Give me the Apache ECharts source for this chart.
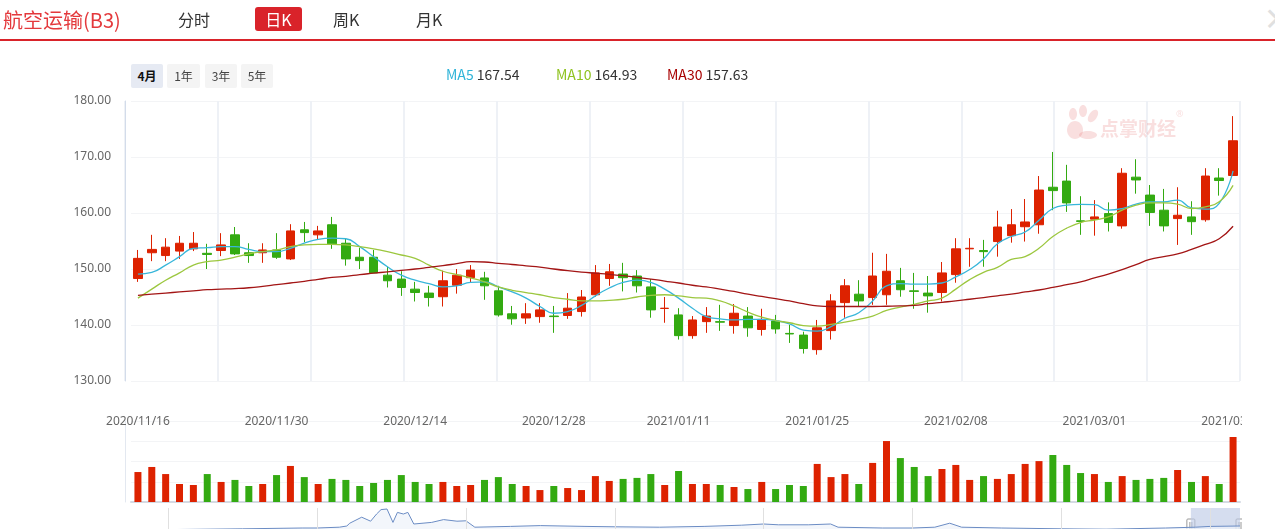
<!DOCTYPE html>
<html><head><meta charset="utf-8">
<script src="https://cdn.jsdelivr.net/npm/echarts@6/dist/echarts.min.js"></script>
<style>
html,body{margin:0;padding:0;width:1275px;height:529px;overflow:hidden;background:#fff;font-family:"Noto Sans CJK SC","Noto Sans",sans-serif;}
#chart{position:absolute;left:0;top:0;width:1242px;height:529px;}
.abs{position:absolute;white-space:nowrap;}
#title{left:3px;top:5px;font-size:20px;color:#e4393c;}
.tab{top:7px;font-size:16px;color:#333;}
#tabOn{left:255px;top:7px;width:47px;height:24px;line-height:24px;text-align:center;background:#d9232a;color:#fff;border-radius:3px;font-size:16px;}
#redline{left:0;top:39px;width:1275px;height:2px;background:#d9232a;}
#close{left:1263px;top:-2px;font-size:28px;font-weight:bold;color:#e0e0e0;}
.btn{top:64px;height:24px;line-height:24px;text-align:center;font-size:12px;color:#444;background:#f4f4f4;border-radius:2px;}
#b4m{background:#e6eaf3;color:#111;font-weight:bold;}
.leg{top:64px;font-size:14px;color:#333;line-height:20px;}
</style></head>
<body>
<div id="chart"></div>
<div class="abs" id="title">航空运输(B3)</div>
<div class="abs tab" style="left:178px">分时</div>
<div class="abs" id="tabOn">日K</div>
<div class="abs tab" style="left:333px">周K</div>
<div class="abs tab" style="left:416px">月K</div>
<div class="abs" id="redline"></div>
<div class="abs" id="close">×</div>
<div class="abs btn" id="b4m" style="left:131px;width:32px">4月</div>
<div class="abs btn" style="left:167px;width:33px">1年</div>
<div class="abs btn" style="left:205px;width:32px">3年</div>
<div class="abs btn" style="left:241px;width:32px">5年</div>
<div class="abs leg" style="left:446px"><span style="color:#2fb4d8">MA5</span> <span id="v5"></span></div>
<div class="abs leg" style="left:556px"><span style="color:#8fc31f">MA10</span> <span id="v10"></span></div>
<div class="abs leg" style="left:667px"><span style="color:#a80000">MA30</span> <span id="v30"></span></div>
<script>
const dates = ['2020/11/16','2020/11/17','2020/11/18','2020/11/19','2020/11/20','2020/11/23','2020/11/24','2020/11/25','2020/11/26','2020/11/27','2020/11/30','2020/12/01','2020/12/02','2020/12/03','2020/12/04','2020/12/07','2020/12/08','2020/12/09','2020/12/10','2020/12/11','2020/12/14','2020/12/15','2020/12/16','2020/12/17','2020/12/18','2020/12/21','2020/12/22','2020/12/23','2020/12/24','2020/12/25','2020/12/28','2020/12/29','2020/12/30','2020/12/31','2021/01/04','2021/01/05','2021/01/06','2021/01/07','2021/01/08','2021/01/11','2021/01/12','2021/01/13','2021/01/14','2021/01/15','2021/01/18','2021/01/19','2021/01/20','2021/01/21','2021/01/22','2021/01/25','2021/01/26','2021/01/27','2021/01/28','2021/01/29','2021/02/01','2021/02/02','2021/02/03','2021/02/04','2021/02/05','2021/02/08','2021/02/09','2021/02/10','2021/02/18','2021/02/19','2021/02/22','2021/02/23','2021/02/24','2021/02/25','2021/02/26','2021/03/01','2021/03/02','2021/03/03','2021/03/04','2021/03/05','2021/03/08','2021/03/09','2021/03/10','2021/03/11','2021/03/12','2021/03/15'];
const tickDates = ['2020/11/16','2020/11/30','2020/12/14','2020/12/28','2021/01/11','2021/01/25','2021/02/08','2021/03/01','2021/03/15'];
const priceTicks = [130,140,150,160,170,180];

const open  = [148.3,152.9,152.4,153.2,153.6,152.8,153.3,156.1,152.9,152.9,153.4,151.8,157.0,156.1,157.9,154.6,152.1,152.1,148.9,148.2,146.4,145.7,145.05,147.1,148.45,148.4,146.1,142.0,141.25,141.5,141.6,141.7,142.4,145.4,148.3,149.1,148.75,146.8,142.95,141.8,138.1,140.6,140.6,139.9,141.6,139.2,140.7,138.5,138.2,135.6,139.0,144.0,145.5,144.9,145.4,147.9,146.1,145.7,145.8,149.0,153.6,153.3,154.9,155.95,157.55,157.9,164.6,165.7,158.6,158.9,159.9,157.7,166.4,163.2,160.5,159.0,159.3,158.8,166.25,166.7];
const close = [151.9,153.5,153.9,154.6,154.6,152.6,154.3,152.7,152.4,153.4,152.1,156.8,156.5,156.8,154.5,151.8,151.5,149.3,147.9,146.7,145.8,144.9,147.9,148.9,149.8,147.0,141.8,141.1,142.0,142.7,141.5,143.0,145.0,149.3,149.5,148.45,147.0,142.7,143.0,138.1,140.9,141.6,140.5,142.1,139.5,141.0,139.3,138.4,135.8,139.5,144.3,147.0,144.3,148.75,149.6,146.3,146.0,145.2,149.3,153.6,153.7,153.1,157.5,157.9,158.4,164.1,164.0,161.8,158.5,159.3,158.3,167.1,165.9,160.1,157.7,159.6,158.45,166.6,165.8,172.9];
const low   = [147.7,151.4,151.4,151.8,153.2,150.0,152.3,152.5,151.1,151.1,151.8,151.6,154.8,155.2,153.6,150.6,150.0,149.3,146.7,145.2,144.2,143.3,143.3,145.6,147.6,144.5,141.5,140.05,140.2,140.4,138.6,141.1,141.5,145.05,147.0,146.0,145.8,141.3,140.4,137.4,137.55,138.6,138.95,138.45,137.9,138.1,138.45,136.8,134.9,134.7,137.4,141.3,143.3,143.6,143.6,145.05,142.9,142.2,144.2,147.55,150.4,150.4,152.2,154.7,154.9,156.3,160.5,160.2,156.1,155.95,156.7,157.2,163.45,157.7,156.7,154.3,156.1,158.45,163.1,166.7];
const high  = [153.4,156.1,155.5,155.9,156.6,154.5,156.4,157.5,154.6,154.6,156.4,158.0,158.4,157.7,159.3,155.4,153.8,153.4,150.4,149.6,147.7,147.0,149.7,150.0,150.7,149.5,147.0,143.4,143.9,143.9,143.4,145.7,146.25,150.7,150.9,151.1,149.8,148.2,145.0,143.0,141.6,143.2,143.6,143.75,143.2,142.9,141.8,140.05,138.8,140.9,145.5,148.2,148.0,152.9,152.7,150.2,149.3,148.75,151.25,155.5,155.5,155.2,160.4,160.7,162.5,166.6,170.9,168.6,163.0,162.3,161.9,168.0,169.6,165.0,164.3,164.6,162.1,168.0,168.0,177.3];
const volume = [148,173,138,89,84,138,99,109,79,89,133,178,123,89,114,109,79,94,109,133,99,89,99,79,84,109,123,89,79,59,79,69,59,128,104,114,119,138,84,153,89,89,84,74,64,99,64,84,79,188,123,138,89,193,301,217,173,128,163,183,109,128,114,138,188,202,232,183,143,138,99,128,109,114,119,158,99,128,89,321];

const ma5  = [149.1,149.4,150.7,152.2,153.7,153.8,154.0,154.0,153.5,153.1,153.1,153.7,154.6,155.3,155.5,155.4,154.0,152.2,150.4,148.9,148.0,147.4,146.8,147.0,147.6,147.7,146.8,145.9,144.8,143.3,142.1,142.4,143.5,145.2,146.6,147.6,148.0,147.6,146.4,144.8,143.0,141.5,141.1,140.9,141.0,141.0,140.8,140.2,139.1,138.9,139.7,141.2,142.2,144.3,147.0,147.4,147.3,147.3,147.5,148.6,149.9,151.8,154.5,155.8,156.6,158.7,160.8,161.4,161.55,161.5,160.5,160.8,161.6,162.0,162.0,162.3,160.9,160.7,161.7,167.54];
const ma10 = [144.8,146.4,148.0,149.3,150.7,151.3,151.6,152.1,152.7,153.1,153.4,154.0,154.3,154.4,154.4,154.3,154.0,153.6,153.1,152.5,151.9,150.7,149.6,149.0,148.4,147.7,146.8,146.2,145.8,145.4,144.9,144.6,144.3,144.3,144.4,144.6,145.0,145.3,145.4,145.2,144.9,144.8,144.3,143.4,142.3,141.4,140.8,140.4,139.9,139.8,140.1,140.5,141.0,141.6,142.6,143.2,143.7,144.3,144.8,146.4,148.1,149.4,150.3,151.7,152.2,153.7,155.8,157.3,158.3,158.75,159.3,160.5,161.4,161.8,161.8,161.6,160.8,161.1,162.0,164.93];
const ma30 = [145.3,145.5,145.7,145.9,146.1,146.3,146.4,146.5,146.65,146.9,147.2,147.5,147.8,148.15,148.5,148.7,149.0,149.25,149.5,149.75,150.0,150.3,150.6,150.95,151.3,151.25,151.0,150.8,150.55,150.35,150.0,149.7,149.45,149.25,149.05,148.8,148.5,148.2,147.85,147.5,147.1,146.8,146.4,146.0,145.5,145.1,144.7,144.3,143.8,143.4,143.3,143.3,143.3,143.3,143.35,143.4,143.5,143.8,144.05,144.3,144.6,144.9,145.2,145.5,145.9,146.25,146.7,147.2,147.7,148.4,149.1,149.9,150.8,151.7,152.2,152.7,153.5,154.4,155.4,157.63];

// overview (slider) history, x in years, y in relative level
const histYears = [2013.71,2014.0,2014.5,2014.9,2015.0,2015.15,2015.2,2015.22,2015.3,2015.36,2015.4,2015.43,2015.47,2015.51,2015.54,2015.58,2015.61,2015.65,2015.77,2015.85,2015.94,2016.0,2016.06,2016.3,2016.5,2016.8,2017.0,2017.3,2017.6,2017.85,2018.0,2018.1,2018.3,2018.45,2018.5,2018.8,2019.0,2019.15,2019.25,2019.33,2019.6,2020.0,2020.3,2020.7,2020.9,2021.0,2021.2];
const histLevel = [45,46,48,50,50,52,55,62,77,67,85,96,97.5,64,89,85,89,60,64,71,67,68,52,54,56,54,53,52,54,57,60,58,58,60,52,50,50,52,62,52,50,48,47,50,52,54,55];
const yearMarks = [2014,2015,2016,2017,2018,2019,2020,2021];
const viewRange = [2020.87, 2021.2];

const UP = '#dd2200', DOWN = '#33aa11';
document.getElementById('v5').textContent = ma5[ma5.length-1].toFixed(2);
document.getElementById('v10').textContent = ma10[ma10.length-1].toFixed(2);
document.getElementById('v30').textContent = ma30[ma30.length-1].toFixed(2);

const kData = dates.map((d,i)=>[open[i],close[i],low[i],high[i]]);
const volData = volume.map((v,i)=>({value:v,itemStyle:{color: close[i]>=open[i]?UP:DOWN}}));
const hist = histYears.map((y,i)=>[y,histLevel[i]]);

const chart = echarts.init(document.getElementById('chart'), null, {renderer:'canvas'});
const splitFaint = {show:true,lineStyle:{color:'#f3f4f6',width:1}};
const option = {
  animation:false,
  textStyle:{fontFamily:'"Noto Sans","Noto Sans CJK SC",sans-serif'},
  grid:[
    {left:131,width:1109,top:101,height:280,outerBoundsMode:'none',containLabel:false},
    {left:131,width:1109,top:421,height:81,outerBoundsMode:'none',containLabel:false},
    {left:125,width:1115,top:101,height:280,outerBoundsMode:'none',containLabel:false},
    {left:125,width:1115,top:508,height:40,outerBoundsMode:'none',containLabel:false}
  ],
  xAxis:[
    {type:'category',gridIndex:0,data:dates,boundaryGap:true,axisLine:{show:false},axisTick:{show:false},splitLine:{show:false},
     axisLabel:{show:true,margin:35,color:'#666',fontSize:12,interval:function(i,v){return tickDates.indexOf(v)!==-1;}}},
    {type:'category',gridIndex:1,data:dates,boundaryGap:true,axisLine:{show:true,lineStyle:{color:'#d5dae3',width:2}},axisTick:{show:false},axisLabel:{show:false},splitLine:{show:false}},
    {type:'value',gridIndex:2,min:0,max:12,interval:1,axisLine:{show:false},axisTick:{show:false},axisLabel:{show:false},splitLine:{show:true,lineStyle:{color:'#eef1f6',width:2}}},
    {type:'value',gridIndex:3,min:2013.71,max:2021.2,position:'top',axisLine:{show:true,lineStyle:{color:'#cfcfcf',width:2}},axisTick:{show:false},axisLabel:{show:false},splitLine:{show:false}}
  ],
  yAxis:[
    {type:'value',gridIndex:0,min:priceTicks[0],max:priceTicks[priceTicks.length-1],interval:10,offset:6,
     axisLine:{show:true,lineStyle:{color:'#d3dcea',width:1}},axisTick:{show:false},
     axisLabel:{color:'#666',fontSize:12,margin:14,formatter:v=>v.toFixed(2)},splitLine:splitFaint},
    {type:'value',gridIndex:1,min:0,max:400,interval:100,offset:6,axisLine:{show:true,lineStyle:{color:'#e3e8f0'}},axisTick:{show:false},axisLabel:{show:false},splitLine:splitFaint},
    {type:'value',gridIndex:2,min:0,max:1,show:false},
    {type:'value',gridIndex:3,min:0,max:100,show:false}
  ],
  series:[
    {type:'line',xAxisIndex:2,yAxisIndex:2,data:[],silent:true},
    {name:'K',type:'candlestick',xAxisIndex:0,yAxisIndex:0,data:kData,barWidth:9,
     itemStyle:{color:UP,color0:DOWN,borderColor:UP,borderColor0:DOWN,borderWidth:1}},
    {name:'MA5',type:'line',xAxisIndex:0,yAxisIndex:0,data:ma5,smooth:true,showSymbol:false,lineStyle:{color:'#38b6da',width:1.3}},
    {name:'MA10',type:'line',xAxisIndex:0,yAxisIndex:0,data:ma10,smooth:true,showSymbol:false,lineStyle:{color:'#9cc73f',width:1.3}},
    {name:'MA30',type:'line',xAxisIndex:0,yAxisIndex:0,data:ma30,smooth:true,showSymbol:false,lineStyle:{color:'#a31515',width:1.3}},
    {name:'VOL',type:'bar',xAxisIndex:1,yAxisIndex:1,data:volData,barWidth:7},
    {type:'line',xAxisIndex:3,yAxisIndex:3,data:hist,showSymbol:false,silent:true,
     lineStyle:{color:'#6b8cc4',width:1},areaStyle:{color:'#eef2f9',origin:'start'},
     markLine:{silent:true,symbol:'none',label:{show:false},lineStyle:{color:'#e0e0e0',width:1,type:'solid'},data:yearMarks.map(y=>({xAxis:y}))},
     markArea:{silent:true,itemStyle:{color:'rgba(190,203,230,0.65)'},data:[[{xAxis:viewRange[0]},{xAxis:viewRange[1]}]]}}
  ]
};
chart.setOption(option);

// decorations: watermark and slider handles
const hx0 = chart.convertToPixel({xAxisIndex:3}, viewRange[0]);
const hx1 = chart.convertToPixel({xAxisIndex:3}, viewRange[1]);
function handle(x){
  return {type:'group',x:x-4,y:519,children:[
    {type:'rect',shape:{x:0,y:0,width:8,height:14,r:1},style:{fill:'#fff',stroke:'#999',lineWidth:1}},
    {type:'line',shape:{x1:3,y1:3,x2:3,y2:11},style:{stroke:'#999',lineWidth:1}},
    {type:'line',shape:{x1:5,y1:3,x2:5,y2:11},style:{stroke:'#999',lineWidth:1}}
  ]};
}
const pink = 'rgba(226,110,110,0.22)';
chart.setOption({graphic:[
  {type:'group',x:1066,y:106,silent:true,children:[
    {type:'ellipse',shape:{cx:9,cy:24,rx:8,ry:9},style:{fill:pink}},
    {type:'ellipse',shape:{cx:7,cy:8,rx:4,ry:6},style:{fill:pink}},
    {type:'ellipse',shape:{cx:17,cy:5,rx:4,ry:6},style:{fill:pink}},
    {type:'ellipse',shape:{cx:27,cy:10,rx:4,ry:7},rotation:-0.6,originX:27,originY:10,style:{fill:pink}},
    {type:'ellipse',shape:{cx:22,cy:29,rx:9,ry:4},style:{fill:pink}},
    {type:'text',x:34,y:13,style:{text:'点掌财经',fill:pink,font:'bold 19px "Noto Sans CJK SC"'}},
    {type:'text',x:110,y:4,style:{text:'®',fill:pink,font:'9px "Noto Sans"'}}
  ]},
  handle(hx0), handle(hx1)
]});
</script>
</body></html>
